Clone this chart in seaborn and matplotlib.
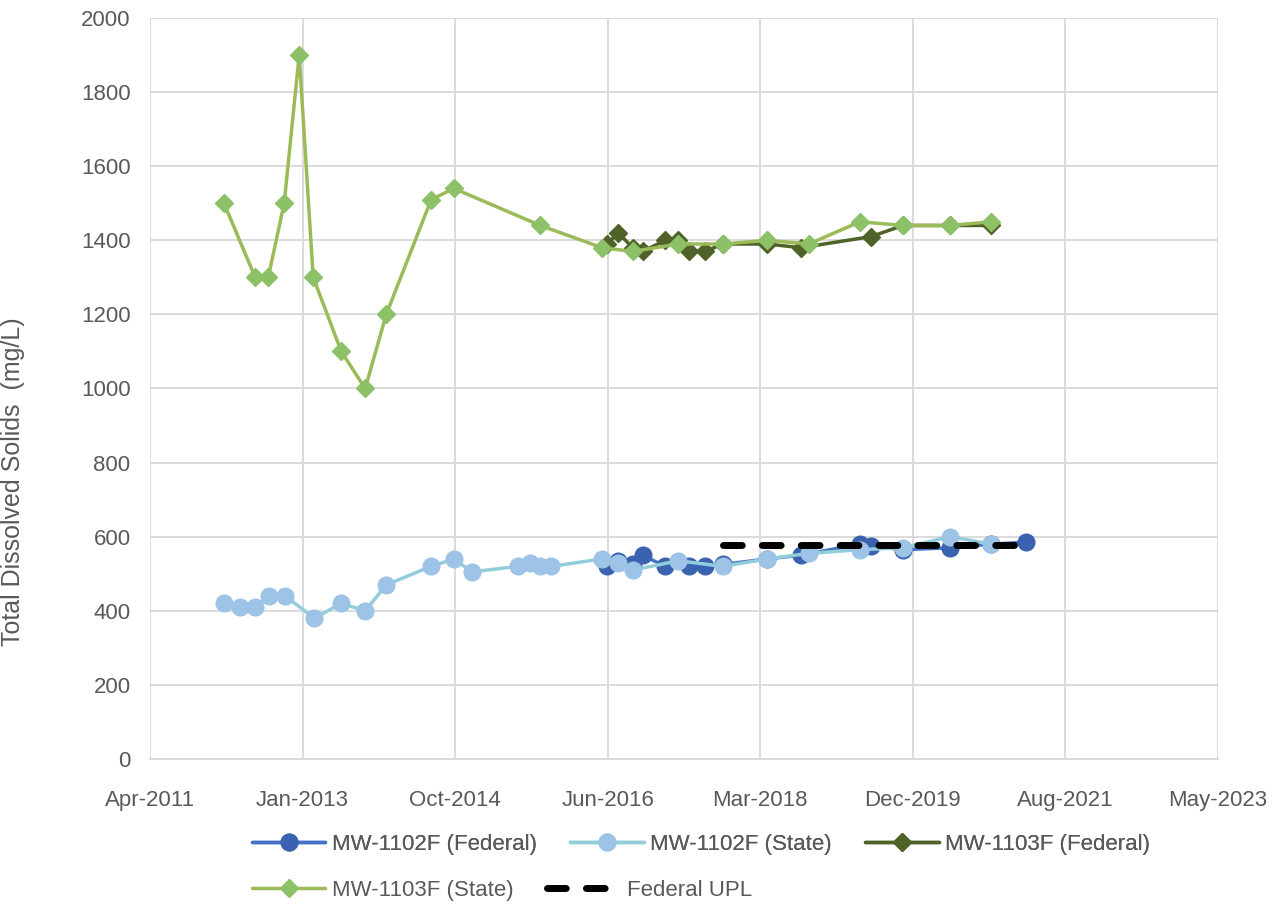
import matplotlib
matplotlib.use("Agg")
import matplotlib.pyplot as plt
import matplotlib.dates as mdates
import pandas as pd
import seaborn as sns

# MW-1102F (Federal)
fed_1102_dates = ["2016-06-22", "2016-08-08", "2016-10-06", "2016-11-16", "2017-02-18",
                  "2017-05-28", "2017-08-02", "2017-10-14", "2018-04-16", "2018-09-02",
                  "2019-05-04", "2019-06-19", "2019-10-29", "2020-05-11", "2020-10-27",
                  "2021-03-21"]
fed_1102_vals = [520, 535, 525, 550, 520, 520, 520, 525, 540, 550, 580, 575, 565, 570, 580, 585]

# MW-1102F (State)
state_1102_dates = ["2012-02-20", "2012-04-27", "2012-06-28", "2012-08-25", "2012-10-30",
                    "2013-02-28", "2013-06-19", "2013-09-26", "2013-12-22", "2014-06-26",
                    "2014-09-28", "2014-12-11", "2015-06-20", "2015-08-10", "2015-09-20",
                    "2015-11-04", "2016-06-02", "2016-08-08", "2016-10-06", "2017-04-13",
                    "2017-10-14", "2018-04-16", "2018-10-05", "2019-05-04", "2019-10-29",
                    "2020-05-11", "2020-10-27"]
state_1102_vals = [420, 410, 410, 440, 440, 380, 420, 400, 470, 520, 540, 505, 520, 530, 520,
                   520, 540, 530, 510, 535, 520, 540, 555, 565, 570, 600, 580]

# MW-1103F (Federal)
fed_1103_dates = ["2016-06-22", "2016-08-08", "2016-10-06", "2016-11-16", "2017-02-18",
                  "2017-04-13", "2017-05-28", "2017-08-02", "2017-10-14", "2018-04-16",
                  "2018-09-02", "2019-06-19", "2019-10-29", "2020-05-11", "2020-10-27"]
fed_1103_vals = [1390, 1420, 1380, 1370, 1400, 1400, 1370, 1370, 1390, 1390, 1380, 1410,
                 1440, 1440, 1440]

# MW-1103F (State)
state_1103_dates = ["2012-02-20", "2012-06-28", "2012-08-21", "2012-10-26", "2012-12-27",
                    "2013-02-23", "2013-06-19", "2013-09-26", "2013-12-22", "2014-06-26",
                    "2014-09-28", "2015-09-20", "2016-06-02", "2016-10-06", "2017-04-13",
                    "2017-10-14", "2018-04-16", "2018-10-05", "2019-05-04", "2019-10-29",
                    "2020-05-11", "2020-10-27"]
state_1103_vals = [1500, 1300, 1300, 1500, 1900, 1300, 1100, 1000, 1200, 1510, 1540, 1440,
                   1380, 1370, 1390, 1390, 1400, 1390, 1450, 1440, 1440, 1450]

# Federal UPL
upl_dates = ["2017-10-14", "2018-04-16", "2018-09-02", "2019-05-04", "2019-06-19",
             "2019-10-29", "2020-05-11", "2020-10-27", "2021-03-21"]
upl_val = 578

y_ticks = list(range(0, 2001, 200))

sns.set_theme(style="white")
plt.rcParams['font.family'] = ['Liberation Sans', 'DejaVu Sans']
grey = "#595959"

fig = plt.figure(figsize=(12.87, 9.05), dpi=100)
ax = fig.add_axes([150 / 1287, 1 - 759 / 905, (1218 - 150) / 1287, (759 - 18) / 905])


def frame(dates, vals):
    return pd.DataFrame({"date": pd.to_datetime(dates), "val": vals})


sns.lineplot(data=frame(fed_1102_dates, fed_1102_vals), x="date", y="val", ax=ax,
             color="#4472C4", lw=2.5, marker="o", markersize=12, markeredgewidth=1,
             markeredgecolor="#3A62B0", markerfacecolor="#3A62B0",
             label="MW-1102F (Federal)")
sns.lineplot(data=frame(state_1102_dates, state_1102_vals), x="date", y="val", ax=ax,
             color="#92CDDC", lw=2.5, marker="o", markersize=12, markeredgewidth=1,
             markeredgecolor="#9DC3E6", markerfacecolor="#9DC3E6",
             label="MW-1102F (State)")
sns.lineplot(data=frame(fed_1103_dates, fed_1103_vals), x="date", y="val", ax=ax,
             color="#4F6228", lw=2.5, marker="D", markersize=9.5, markeredgewidth=1,
             markeredgecolor="#4F6228", markerfacecolor="#4F6228",
             label="MW-1103F (Federal)")
sns.lineplot(data=frame(state_1103_dates, state_1103_vals), x="date", y="val", ax=ax,
             color="#9BBB59", lw=2.5, marker="D", markersize=9.5, markeredgewidth=1,
             markeredgecolor="#8CC168", markerfacecolor="#8CC168",
             label="MW-1103F (State)")
sns.lineplot(data=frame(upl_dates, [upl_val] * len(upl_dates)), x="date", y="val", ax=ax,
             color="black", lw=5, dash_capstyle="round", label="Federal UPL")
ax.lines[-1].set_dashes((2.7, 2.9))

# axis: Excel-style date axis with 631 day major unit
start = pd.Timestamp("2011-04-20")
xticks = [start + pd.Timedelta(days=631 * k) for k in range(8)]
ax.set_xlim(xticks[0], xticks[-1])
ax.set_xticks(xticks)
ax.xaxis.set_major_formatter(mdates.DateFormatter("%b-%Y"))
ax.set_ylim(0, 2000)
ax.set_yticks(y_ticks)

ax.grid(True, color="#D9D9D9", lw=1.3)
for s in ["top", "right", "left"]:
    ax.spines[s].set_visible(False)
ax.spines["bottom"].set_color("#D9D9D9")
ax.spines["bottom"].set_linewidth(1.3)
ax.tick_params(axis="both", length=0, labelsize=16, labelcolor=grey)
ax.tick_params(axis="x", pad=22)
ax.tick_params(axis="y", pad=14)
ax.set_xlabel("")
ax.set_ylabel("Total Dissolved Solids  (mg/L)", fontsize=18, color=grey)
ax.yaxis.set_label_coords(-0.117, 0.374)

handles, labels = ax.get_legend_handles_labels()
ax.get_legend().remove()
leg_kw = dict(frameon=False, fontsize=16, handlelength=3.3, handletextpad=0.3,
              columnspacing=1.5, labelcolor=grey, loc="upper left")
leg1 = fig.legend(handles[:3], labels[:3], ncol=3,
                  bbox_to_anchor=(232 / 1287, 1 - 814 / 905), **leg_kw)
fig.add_artist(leg1)
fig.legend(handles[3:], labels[3:], ncol=2,
           bbox_to_anchor=(232 / 1287, 1 - 860 / 905), **leg_kw)

fig.savefig("out.png", dpi=100)
